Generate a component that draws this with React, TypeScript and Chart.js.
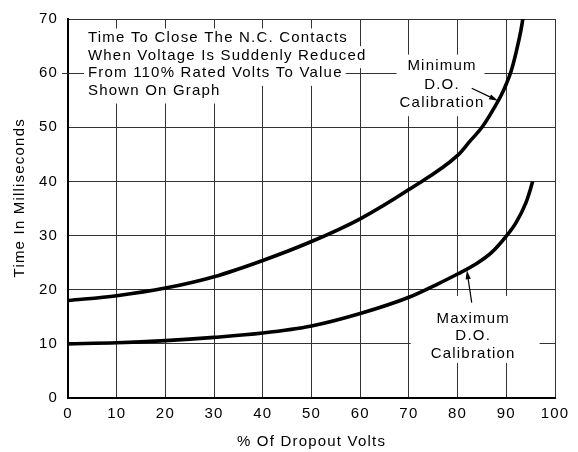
import { useEffect, useRef } from "react";
import { Chart, registerables } from "chart.js";

Chart.register(...registerables);

// ---- data ----
const xTickValues = [0, 10, 20, 30, 40, 50, 60, 70, 80, 90, 100];
const yTickValues = [0, 10, 20, 30, 40, 50, 60, 70];

// Minimum D.O. Calibration (upper curve)
const minDoX = [0, 10, 20, 30, 40, 50, 60, 70, 80, 82.5, 85, 87, 89, 90, 91, 92, 93, 93.4];
const minDoY = [18, 18.9, 20.3, 22.4, 25.4, 28.9, 33.1, 38.5, 44.8, 47.4, 50.0, 52.8, 56.0, 58.0, 60.4, 63.8, 67.9, 70];

// Maximum D.O. Calibration (lower curve)
const maxDoX = [0, 10, 20, 30, 40, 50, 60, 70, 76, 80, 84, 87, 90, 92, 94, 95, 95.4];
const maxDoY = [10, 10.2, 10.6, 11.2, 12.0, 13.3, 15.6, 18.6, 21.1, 22.9, 24.9, 26.9, 29.9, 32.4, 36.0, 38.7, 40];

const noteLines = [
  "Time To Close The N.C. Contacts",
  "When Voltage Is Suddenly Reduced",
  "From 110% Rated Volts To Value",
  "Shown On Graph",
];
const minLabelLines = ["Minimum", "D.O.", "Calibration"];
const maxLabelLines = ["Maximum", "D.O.", "Calibration"];

const xTitle = "% Of Dropout Volts";
const yTitle = "Time In Milliseconds";

const FONT_FAMILY = '"Liberation Sans", Arial, sans-serif';
const FONT_SIZE = 15;
const LETTER_SPACING = "1.2px";
const CAP = 11;

type Note = {
  lines: string[];
  x: number;
  y: number;
  align: "left" | "center";
  spacing: number;
  mode: "lines" | "block";
  pad: { l: number; r: number; t: number; b: number };
};

const notes: Note[] = [
  { lines: noteLines, x: 4.1, y: 66.5, align: "left", spacing: 17.7, mode: "lines", pad: { l: 4, r: 3, t: 4, b: 7 } },
  { lines: minLabelLines, x: 76.8, y: 61.3, align: "center", spacing: 18.3, mode: "block", pad: { l: 3, r: 0, t: 6, b: 8 } },
  { lines: maxLabelLines, x: 83.2, y: 14.7, align: "center", spacing: 17.5, mode: "block", pad: { l: 20, r: 24, t: 17, b: 4 } },
];

const arrows = [
  { from: [82.9, 57.2], to: [88.3, 54.9] },
  { from: [82.9, 17.6], to: [81.9, 23.6] },
];

const spacingPlugin = {
  id: "letterSpacing",
  beforeDraw(chart: any) {
    chart.ctx.letterSpacing = LETTER_SPACING;
  },
};

const notesPlugin = {
  id: "notes",
  beforeDatasetsDraw(chart: any) {
    const { ctx } = chart;
    const xs = chart.scales.x;
    const ys = chart.scales.y;
    ctx.save();
    ctx.font = `${FONT_SIZE}px ${FONT_FAMILY}`;
    ctx.letterSpacing = LETTER_SPACING;
    for (const n of notes) {
      const px = xs.getPixelForValue(n.x);
      const py = ys.getPixelForValue(n.y);
      const rows = n.lines.map((t, i) => {
        const w = ctx.measureText(t).width;
        const l = n.align === "left" ? px : px - w / 2;
        return { t, w, l, mid: py + i * n.spacing };
      });
      ctx.fillStyle = "#fff";
      if (n.mode === "lines") {
        rows.forEach((r) =>
          ctx.fillRect(r.l - n.pad.l, r.mid - CAP / 2 - n.pad.t, r.w + n.pad.l + n.pad.r, CAP + n.pad.t + n.pad.b)
        );
      } else {
        const L = Math.min(...rows.map((r) => r.l));
        const R = Math.max(...rows.map((r) => r.l + r.w));
        const T = rows[0].mid - CAP / 2;
        const B = rows[rows.length - 1].mid + CAP / 2;
        ctx.fillRect(L - n.pad.l, T - n.pad.t, R - L + n.pad.l + n.pad.r, B - T + n.pad.t + n.pad.b);
      }
      ctx.fillStyle = "#000";
      ctx.textBaseline = "middle";
      ctx.textAlign = "left";
      rows.forEach((r) => ctx.fillText(r.t, r.l, r.mid));
    }
    // small stub of the 60 grid line left of the axis
    const y60 = Math.round(ys.getPixelForValue(60)) + 0.5;
    ctx.strokeStyle = "#333";
    ctx.lineWidth = 1;
    ctx.beginPath();
    ctx.moveTo(xs.left - 6, y60);
    ctx.lineTo(xs.left, y60);
    ctx.stroke();
    ctx.restore();
  },
  afterDatasetsDraw(chart: any) {
    const { ctx } = chart;
    const xs = chart.scales.x;
    const ys = chart.scales.y;
    ctx.save();
    ctx.strokeStyle = "#000";
    ctx.fillStyle = "#000";
    ctx.lineWidth = 1.2;
    for (const a of arrows) {
      const x1 = xs.getPixelForValue(a.from[0]);
      const y1 = ys.getPixelForValue(a.from[1]);
      const x2 = xs.getPixelForValue(a.to[0]);
      const y2 = ys.getPixelForValue(a.to[1]);
      const ang = Math.atan2(y2 - y1, x2 - x1);
      const len = 9;
      const hw = 2.6;
      const bx = x2 - len * Math.cos(ang);
      const by = y2 - len * Math.sin(ang);
      ctx.beginPath();
      ctx.moveTo(x1, y1);
      ctx.lineTo(bx, by);
      ctx.stroke();
      ctx.beginPath();
      ctx.moveTo(x2, y2);
      ctx.lineTo(bx + hw * Math.sin(ang), by - hw * Math.cos(ang));
      ctx.lineTo(bx - hw * Math.sin(ang), by + hw * Math.cos(ang));
      ctx.closePath();
      ctx.fill();
    }
    ctx.restore();
  },
};

export default function App() {
  const ref = useRef<HTMLCanvasElement>(null);
  useEffect(() => {
    document.body.style.margin = "0";
    const canvas = ref.current;
    if (!canvas) return;
    const font = { family: FONT_FAMILY, size: FONT_SIZE };
    const lineStyle = {
      borderColor: "#000",
      borderWidth: 3.6,
      pointRadius: 0,
      fill: false,
      cubicInterpolationMode: "monotone" as const,
    };
    const grid = { color: "#333", lineWidth: 1, drawTicks: false };
    const border = { color: "#000", width: 2 };
    const chart = new Chart(canvas, {
      type: "line",
      data: {
        datasets: [
          { label: "Minimum D.O. Calibration", data: minDoX.map((x, i) => ({ x, y: minDoY[i] })), ...lineStyle },
          { label: "Maximum D.O. Calibration", data: maxDoX.map((x, i) => ({ x, y: maxDoY[i] })), ...lineStyle },
        ],
      },
      options: {
        responsive: false,
        animation: false,
        devicePixelRatio: 1,
        layout: { padding: { top: 15, right: 23, left: 0, bottom: 0 } },
        plugins: { legend: { display: false }, tooltip: { enabled: false } },
        scales: {
          x: {
            type: "linear",
            min: 0,
            max: 100,
            afterBuildTicks: (s: any) => {
              s.ticks = xTickValues.map((v) => ({ value: v }));
            },
            afterFit: (s: any) => {
              s.height = 54;
            },
            grid,
            border,
            ticks: { padding: 7, font, color: "#000", maxRotation: 0, autoSkip: false },
            title: { display: true, text: xTitle, font, color: "#000", padding: { top: 0, bottom: 1 } },
          },
          y: {
            type: "linear",
            min: 0,
            max: 70,
            afterBuildTicks: (s: any) => {
              s.ticks = yTickValues.map((v) => ({ value: v }));
            },
            afterFit: (s: any) => {
              s.width = 68;
            },
            grid,
            border,
            ticks: { padding: 10, font, color: "#000", autoSkip: false },
            title: { display: true, text: "    " + yTitle, font, color: "#000", padding: { top: 11, bottom: 0 } },
          },
        },
      },
      plugins: [spacingPlugin, notesPlugin],
    } as any);
    return () => chart.destroy();
  }, []);
  return <canvas ref={ref} width={578} height={452} style={{ display: "block", width: 578, height: 452 }} />;
}
